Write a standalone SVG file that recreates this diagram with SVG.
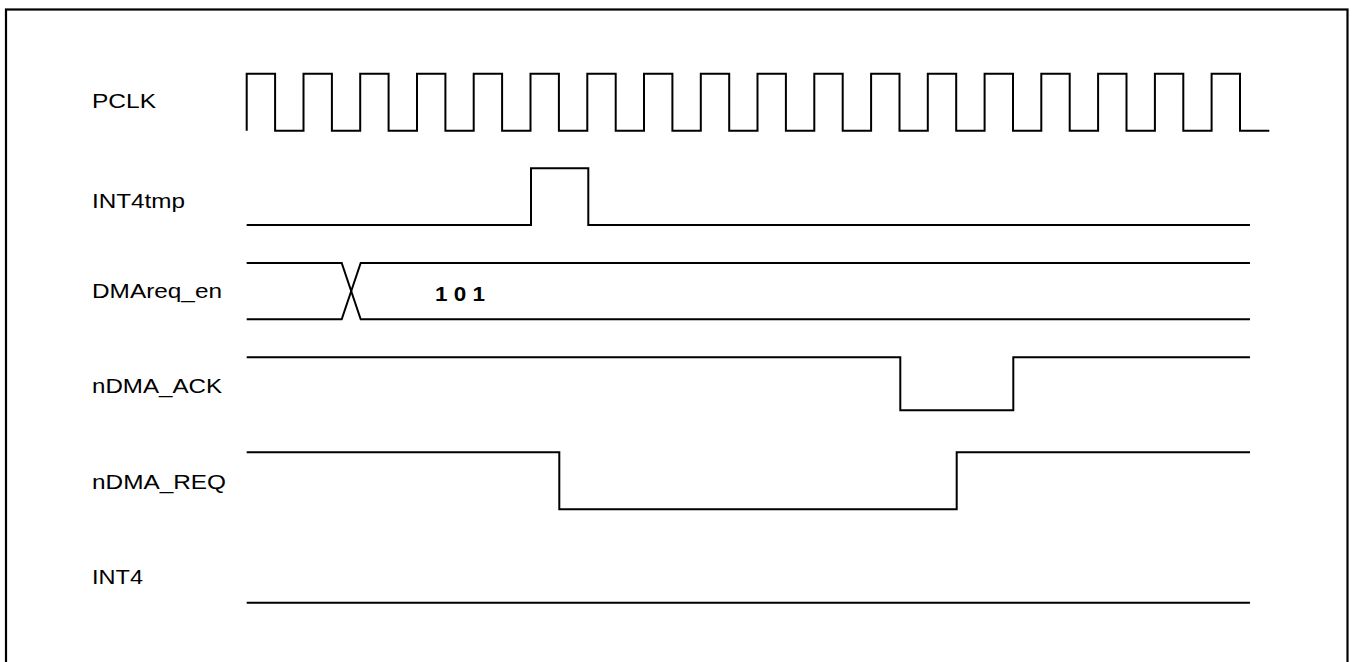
<svg xmlns="http://www.w3.org/2000/svg" width="1352" height="662" viewBox="0 0 1352 662">
<style>
.lbl{font-family:"Liberation Sans",Arial,sans-serif;font-size:21px;fill:#000}
.val{font-family:"Liberation Sans",Arial,sans-serif;font-size:21px;font-weight:bold;fill:#000}
.w{fill:none;stroke:#000;stroke-width:2;stroke-linejoin:miter;stroke-linecap:butt}
</style>
<rect x="0" y="0" width="1352" height="662" fill="#fff"/>
<rect x="6" y="9.5" width="1341.5" height="700" fill="none" stroke="#000" stroke-width="2.2"/>
<g id="labels">
<text class="lbl" x="92" y="108.3" textLength="64" lengthAdjust="spacingAndGlyphs">PCLK</text>
<text class="lbl" x="92" y="208.3" textLength="93" lengthAdjust="spacingAndGlyphs">INT4tmp</text>
<text class="lbl" x="92" y="297.7" textLength="130" lengthAdjust="spacingAndGlyphs">DMAreq_en</text>
<text class="lbl" x="92" y="393.3" textLength="130" lengthAdjust="spacingAndGlyphs">nDMA_ACK</text>
<text class="lbl" x="92" y="489" textLength="134" lengthAdjust="spacingAndGlyphs">nDMA_REQ</text>
<text class="lbl" x="92" y="584" textLength="51" lengthAdjust="spacingAndGlyphs">INT4</text>
</g>
<g id="waveforms">
<g id="PCLK">
<path class="w" d="M246.7,130.7 V73.7 H275.1 V130.7 H303.5 V73.7 H331.9 V130.7 H360.2 V73.7 H388.6 V130.7 H417 V73.7 H445.4 V130.7 H473.7 V73.7 H502.1 V130.7 H530.5 V73.7 H558.9 V130.7 H587.3 V73.7 H615.7 V130.7 H644 V73.7 H672.4 V130.7 H700.8 V73.7 H729.2 V130.7 H757.5 V73.7 H785.9 V130.7 H814.3 V73.7 H842.7 V130.7 H871.1 V73.7 H899.5 V130.7 H927.8 V73.7 H956.2 V130.7 H984.6 V73.7 H1013 V130.7 H1041.3 V73.7 H1069.7 V130.7 H1098.1 V73.7 H1126.5 V130.7 H1154.9 V73.7 H1183.3 V130.7 H1211.6 V73.7 H1240 V130.7 H1269.3"/>
</g>
<g id="INT4tmp">
<path class="w" d="M246.7,225 H531 V168.3 H588.3 V225 H1250"/>
</g>
<g id="DMAreq_en">
<path class="w" d="M246.7,263 H341.7 L360.7,319.3 H1250"/>
<path class="w" d="M246.7,319.3 H341.7 L360.7,263 H1250"/>
<text class="val" x="435" y="300.7" textLength="50" lengthAdjust="spacingAndGlyphs">1 0 1</text>
</g>
<g id="nDMA_ACK">
<path class="w" d="M246.7,357.3 H900.3 V410.3 H1013.3 V357.3 H1250"/>
</g>
<g id="nDMA_REQ">
<path class="w" d="M246.7,452.3 H559.3 V509.3 H956.7 V452.3 H1250"/>
</g>
<g id="INT4">
<path class="w" d="M246.7,602.7 H1250"/>
</g>
</g>
</svg>
